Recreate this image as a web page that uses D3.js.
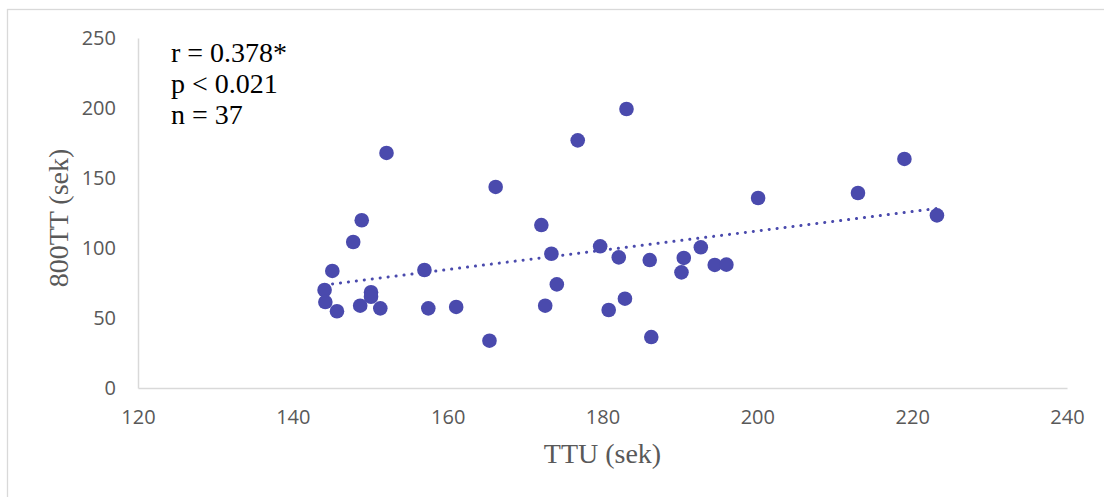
<!DOCTYPE html>
<html>
<head>
<meta charset="utf-8">
<script src="https://cdn.jsdelivr.net/npm/d3@7"></script>
<style>
  body { margin: 0; background: #ffffff; }
  svg { display: block; }
</style>
</head>
<body>
<svg id="canvas"></svg>
<script>
// Data: TTU (sek) and 800TT (sek).
var ttu = [144.1, 144.2, 145.1, 145.7, 147.8, 148.7, 148.9, 150.1, 150.1, 151.3,
           152.1, 157.0, 157.5, 161.1, 165.4, 166.2, 172.1, 172.6, 173.4, 174.1,
           176.8, 179.7, 180.8, 182.1, 182.9, 183.1, 186.1, 186.3, 190.2, 190.5,
           192.7, 194.5, 196.0, 200.1, 213.0, 219.0, 223.2];
var tt800 = [70.0, 61.4, 83.6, 54.8, 104.3, 58.8, 119.8, 68.4, 65.2, 56.9,
             167.9, 84.3, 56.9, 57.9, 33.8, 143.6, 116.4, 58.8, 95.9, 74.0,
             176.9, 101.2, 55.7, 93.3, 63.8, 199.3, 91.4, 36.4, 82.6, 92.9,
             100.5, 87.9, 88.1, 135.7, 139.3, 163.6, 123.3];

// Tick labels.
var xTicks = [120, 140, 160, 180, 200, 220, 240];
var yTicks = [0, 50, 100, 150, 200, 250];

// Stats text in the top left corner.
var statLines = ['r = 0.378*', 'p < 0.021', 'n = 37'];

// Canvas dimensions.
var canvasWidth = 1104;
var canvasHeight = 497;

// Plot area edges.
var plotLeft = 138;
var plotRight = 1067;
var plotTop = 38;
var plotBottom = 388;

var svg = d3.select('#canvas')
            .attr('width', canvasWidth)
            .attr('height', canvasHeight);

// Chart frame (only top and left edges show).
svg.append('rect')
   .attr('x', 7.5)
   .attr('y', 9.5)
   .attr('width', 1200)
   .attr('height', 600)
   .attr('fill', 'none')
   .attr('stroke', '#d9d9d9')
   .attr('stroke-width', 1.3);

var xScale = d3.scaleLinear()
               .domain([120, 240])
               .range([plotLeft, plotRight]);

var yScale = d3.scaleLinear()
               .domain([0, 250])
               .range([plotBottom, plotTop]);

var tickFont = '"Open Sans", "Noto Sans", sans-serif';
var serifFont = '"Liberation Serif", "DejaVu Serif", serif';

// Horizontal axis.
var xAxis = d3.axisBottom(xScale)
              .tickValues(xTicks)
              .tickSize(0)
              .tickPadding(22);
var gx = svg.append('g')
            .attr('transform', 'translate(0,' + plotBottom + ')')
            .call(xAxis);
gx.select('.domain').attr('stroke', '#d9d9d9').attr('stroke-width', 1.5);
gx.selectAll('text')
  .attr('fill', '#595959')
  .style('font-family', tickFont)
  .style('font-size', '20px');

// Vertical axis.
var yAxis = d3.axisLeft(yScale)
              .tickValues(yTicks)
              .tickSize(0)
              .tickPadding(22);
var gy = svg.append('g')
            .attr('transform', 'translate(' + plotLeft + ',0)')
            .call(yAxis);
gy.select('.domain').attr('stroke', '#d9d9d9').attr('stroke-width', 1.5);
gy.selectAll('text')
  .attr('fill', '#595959')
  .style('font-family', tickFont)
  .style('font-size', '20px');

// Linear trendline from the data (least squares).
var meanX = d3.mean(ttu);
var meanY = d3.mean(tt800);
var sxy = 0, sxx = 0;
for (var i = 0; i < ttu.length; i++) {
  sxy += (ttu[i] - meanX) * (tt800[i] - meanY);
  sxx += (ttu[i] - meanX) * (ttu[i] - meanX);
}
var slope = sxy / sxx;
var intercept = meanY - slope * meanX;
var xExtent = d3.extent(ttu);

svg.append('line')
   .attr('x1', xScale(xExtent[0]))
   .attr('y1', yScale(intercept + slope * xExtent[0]))
   .attr('x2', xScale(xExtent[1]))
   .attr('y2', yScale(intercept + slope * xExtent[1]))
   .attr('stroke', '#4a4aad')
   .attr('stroke-width', 3)
   .attr('stroke-linecap', 'round')
   .attr('stroke-dasharray', '0.1,7.9');

// Points.
svg.selectAll('circle.pt')
   .data(ttu)
   .enter()
   .append('circle')
   .attr('class', 'pt')
   .attr('cx', function(d, i) { return xScale(d); })
   .attr('cy', function(d, i) { return yScale(tt800[i]); })
   .attr('r', 7.3)
   .attr('fill', '#4a4aad');

// Stats text.
svg.selectAll('text.stat')
   .data(statLines)
   .enter()
   .append('text')
   .attr('class', 'stat')
   .attr('x', 171)
   .attr('y', function(d, i) { return 62 + i * 31; })
   .attr('fill', '#000000')
   .style('font-family', serifFont)
   .style('font-size', '28px')
   .text(function(d) { return d; });

// Axis titles.
svg.append('text')
   .attr('x', (plotLeft + plotRight) / 2)
   .attr('y', 463)
   .attr('text-anchor', 'middle')
   .attr('fill', '#595959')
   .style('font-family', serifFont)
   .style('font-size', '28px')
   .text('TTU (sek)');

svg.append('text')
   .attr('transform', 'translate(68,' + 218 + ') rotate(-90)')
   .attr('text-anchor', 'middle')
   .attr('fill', '#595959')
   .style('font-family', serifFont)
   .style('font-size', '28px')
   .text('800TT (sek)');
</script>
</body>
</html>
